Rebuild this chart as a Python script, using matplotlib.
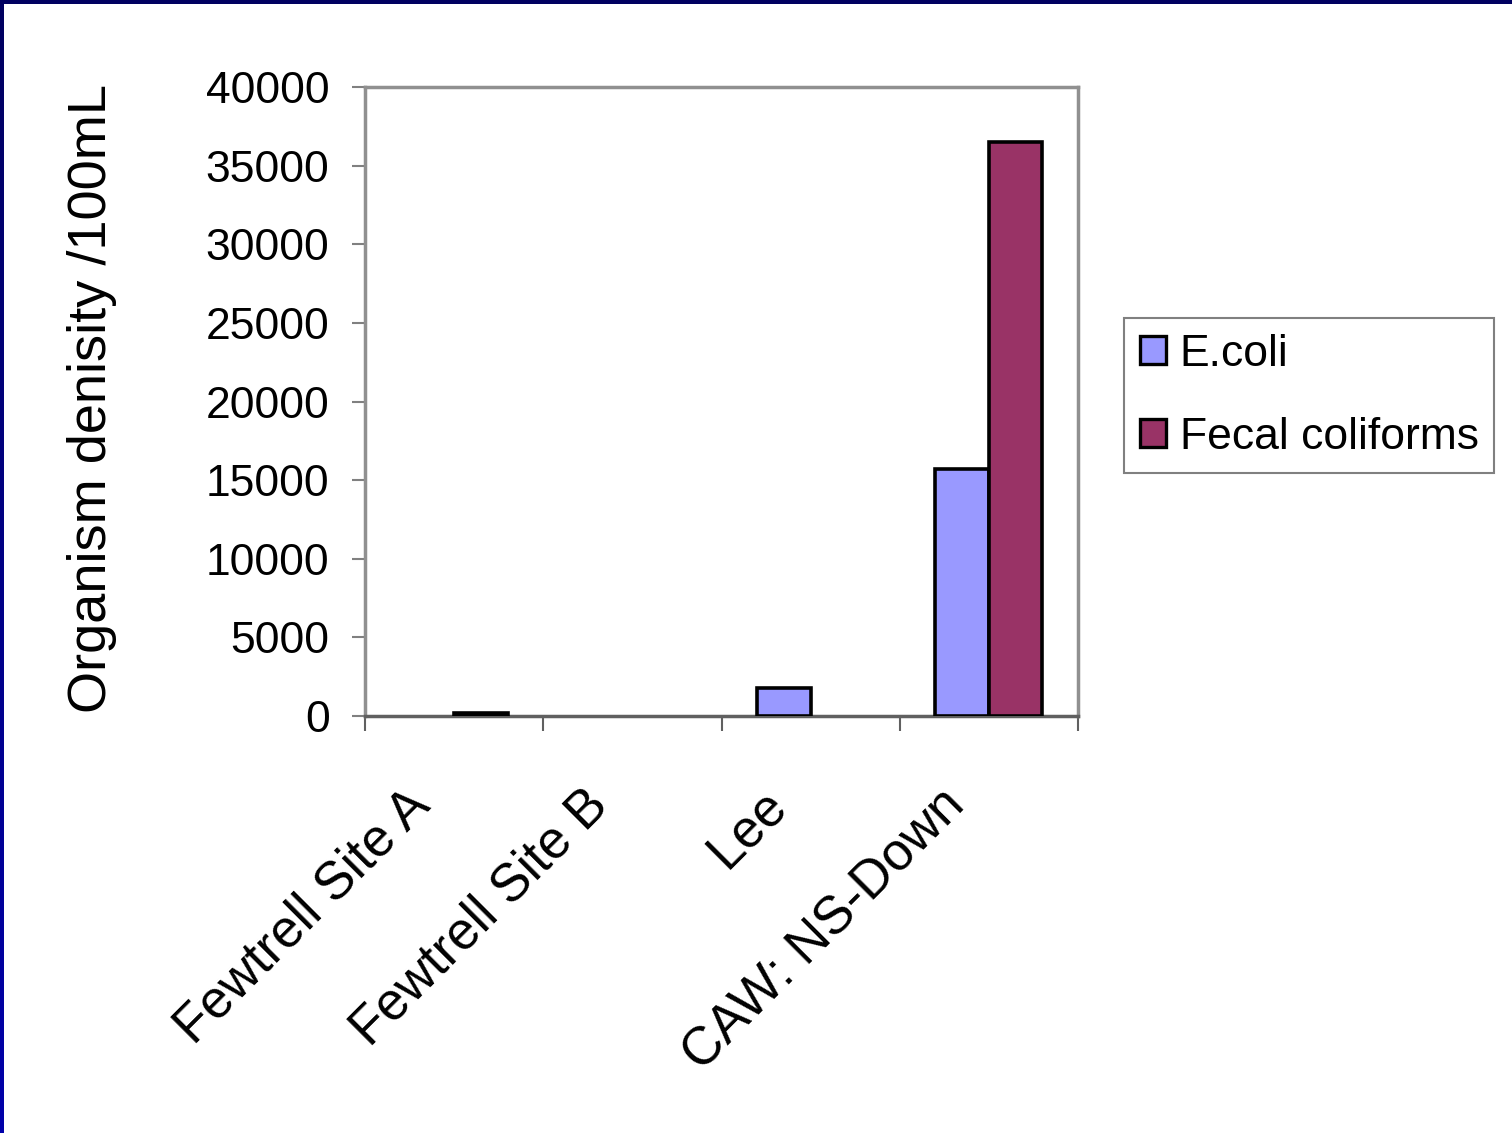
import numpy as np
import matplotlib
matplotlib.use("Agg")
import matplotlib.pyplot as plt
from matplotlib.patches import Patch
from matplotlib.transforms import ScaledTranslation

plt.rcParams['font.family'] = ['Liberation Sans', 'DejaVu Sans']

sites = ["Fewtrell Site A", "Fewtrell Site B", "Lee", "CAW: NS-Down"]
# nan = not measured at that site
ecoli = [np.nan, np.nan, 1800, 15700]
fecal = [200, np.nan, np.nan, 36500]
series_names = ["E.coli", "Fecal coliforms"]
yticks = [0, 5000, 10000, 15000, 20000, 25000, 30000, 35000, 40000]

W, H = 1512, 1133
fig = plt.figure(figsize=(W / 100, H / 100), dpi=100)

# slide frame: dark blue band along top and left edges
grad = fig.add_axes([0, 0, 3.5 / W, 1])
grad.imshow(np.linspace(0, 1, 256).reshape(-1, 1), aspect='auto',
            cmap=matplotlib.colors.LinearSegmentedColormap.from_list(
                'frame', ['#0000AA', '#000060']),
            origin='lower', extent=[0, 1, 0, 1])
grad.axis('off')
topband = fig.add_axes([0, 1 - 4 / H, 1, 4 / H])
topband.set_facecolor('#000060')
topband.set_xticks([]); topband.set_yticks([])
for s in topband.spines.values():
    s.set_visible(False)

ax = fig.add_axes([365 / W, 1 - 716 / H, (1078 - 365) / W, (716 - 87) / H])

x = np.arange(len(sites))
bw = 0.3
edge_lw = 2.6
ax.bar(x - bw / 2, ecoli, width=bw, color='#9999FF', edgecolor='black',
       linewidth=edge_lw, zorder=3)
ax.bar(x + bw / 2, fecal, width=bw, color='#993366', edgecolor='black',
       linewidth=edge_lw, zorder=3)

ax.set_xlim(-0.5, len(sites) - 0.5)
ax.set_ylim(0, 40000)
ax.set_yticks(yticks)
ax.set_yticklabels([str(v) for v in yticks], fontsize=32)
ax.tick_params(axis='y', length=9.5, width=1.5, color='#808080', pad=16)

ax.set_xticks(np.arange(len(sites) + 1) - 0.5)
ax.set_xticklabels([])
ax.tick_params(axis='x', length=11, width=1.5, color='#606060')

label_tf = ax.get_xaxis_transform() + ScaledTranslation(
    -0.22, -0.91, fig.dpi_scale_trans)
for i, name in enumerate(sites):
    ax.text(i, 0, name, rotation=45, ha='right', va='baseline',
            rotation_mode='anchor', fontsize=38, transform=label_tf)

for side in ['top', 'right', 'left']:
    ax.spines[side].set_color('#909090')
    ax.spines[side].set_linewidth(2.5)
ax.spines['bottom'].set_color('#606060')
ax.spines['bottom'].set_linewidth(2.5)

fig.text(92 / W, 1 - 399 / H, "Organism denisity /100mL", rotation=90,
         ha='center', va='center', fontsize=39)

handles = [Patch(facecolor='#9999FF', edgecolor='black', linewidth=2.4),
           Patch(facecolor='#993366', edgecolor='black', linewidth=2.4)]
leg = fig.legend(handles, series_names, loc='upper left',
                 bbox_to_anchor=(1124 / W, 1 - 318 / H), fontsize=32,
                 frameon=True, fancybox=False, edgecolor='#606060',
                 handlelength=0.6, handleheight=0.6, handletextpad=0.3,
                 labelspacing=0.95, borderpad=0.35, borderaxespad=0)
leg.get_frame().set_linewidth(1.5)

fig.savefig("out.png", dpi=100, facecolor='white')
